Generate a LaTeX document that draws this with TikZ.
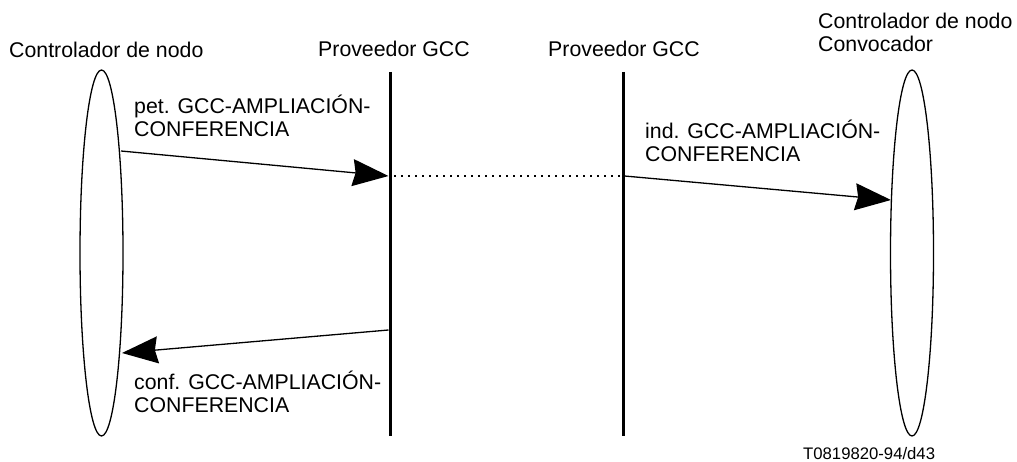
\documentclass[tikz,border=0pt]{standalone}
\usepackage{fontspec}
\setmainfont{Liberation Sans}
\usetikzlibrary{shapes.geometric,arrows.meta}
\begin{document}
\begin{tikzpicture}[x=1pt,y=-1pt,
  lbl/.style={inner sep=0pt,anchor=base west,font=\fontsize{21.3}{23}\selectfont,align=left},
  actor/.style={draw,ellipse,line width=1.3pt,minimum width=43pt,minimum height=366pt,inner sep=0pt},
  life/.style={line width=3pt},
  msg/.style={line width=1.3pt,-{Stealth[length=36pt,width=27pt,inset=3pt]}},
  dots/.style={line width=2.2pt,dash pattern=on 2pt off 5pt}]
\useasboundingbox (0,0) rectangle (1017,462);
% actors
\node[actor] (L) at (101.5,253) {};
\node[actor] (R) at (912,253) {};
% lifelines
\coordinate (p1t) at (390,72); \coordinate (p1b) at (390,436);
\coordinate (p2t) at (623,72); \coordinate (p2b) at (623,436);
\draw[life] (p1t) -- (p1b);
\draw[life] (p2t) -- (p2b);
% message end points
\coordinate (m1s) at (121,151); \coordinate (m1e) at (388.5,176);
\coordinate (d1s) at (394,176); \coordinate (d1e) at (621,176);
\coordinate (m3s) at (624.5,176); \coordinate (m3e) at (891,200);
\coordinate (m2s) at (388.5,330); \coordinate (m2e) at (122,353);
\draw[msg] (m1s) -- (m1e);
\draw[dots] (d1s) -- (d1e);
\draw[msg] (m3s) -- (m3e);
\draw[msg] (m2s) -- (m2e);
% titles
\node[lbl] (tL) at (9,58) {Controlador de nodo};
\node[lbl] (tP1) at (318,57) {Proveedor GCC};
\node[lbl] (tP2) at (548,57) {Proveedor GCC};
\node[lbl] (tR) at (818,52) {Controlador de nodo\\Convocador};
% message labels
\node[lbl] (l1) at (134,137) {pet. GCC-AMPLIACIÓN-\\CONFERENCIA};
\node[lbl] (l3) at (645,162) {ind. GCC-AMPLIACIÓN-\\CONFERENCIA};
\node[lbl] (l2) at (134,412) {conf. GCC-AMPLIACIÓN-\\CONFERENCIA};
\node[inner sep=0pt,anchor=base west,font=\fontsize{16.7}{19}\selectfont] (ref) at (803,459) {T0819820-94/d43};
\end{tikzpicture}
\end{document}
